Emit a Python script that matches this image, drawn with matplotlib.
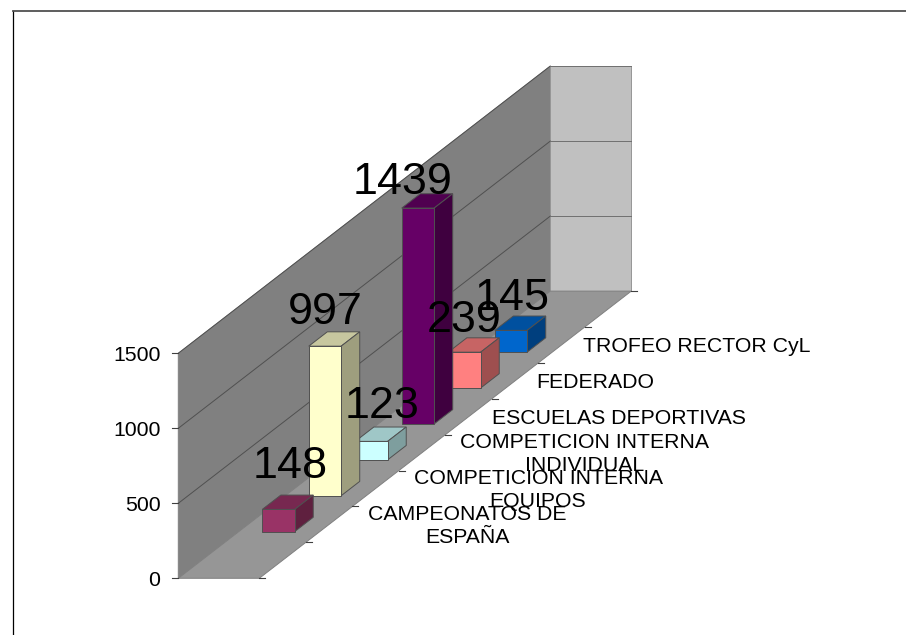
import matplotlib
matplotlib.use("Agg")
import matplotlib.pyplot as plt
from matplotlib.patches import Polygon

categorias = ["CAMPEONATOS DE\nESPAÑA", "COMPETICION INTERNA\nEQUIPOS", "COMPETICION INTERNA\nINDIVIDUAL",
              "ESCUELAS DEPORTIVAS", "FEDERADO", "TROFEO RECTOR CyL"]
valores = [148, 997, 123, 1439, 239, 145]
colores = ["#993366", "#FFFFCC", "#CCFFFF", "#660066", "#FF8080", "#0066CC"]
ticks_y = [0, 500, 1000, 1500]

# proyeccion oblicua, en pixeles de la imagen
X0, Y0 = 178.3, 578.3
ANCHO = 81.0
DX, DY = 46.5, 35.9
ESCALA = 0.15
N_FILAS = 8


def proy(u, v, z=0):
    return (X0 + ANCHO * u + DX * v, Y0 - DY * v - ESCALA * z)


def oscurecer(color, f):
    r, g, b = matplotlib.colors.to_rgb(color)
    return (r * f, g * f, b * f)


def cara(ax, puntos, color, borde="#505050", lw=0.7, z=2):
    ax.add_patch(Polygon(puntos, closed=True, facecolor=color, edgecolor=borde, linewidth=lw, zorder=z))


plt.rcParams["font.family"] = ["Liberation Sans", "DejaVu Sans"]
fig = plt.figure(figsize=(9.06, 6.35), dpi=100)
ax = fig.add_axes([0, 0, 1, 1])
ax.set_xlim(0, 906)
ax.set_ylim(635, 0)
ax.axis("off")

# marco
ax.plot([12.7, 12.7], [11, 635], color="black", lw=0.9, zorder=1)
ax.plot([12.7, 906], [11, 11], color="#505050", lw=1.3, zorder=1)

# paredes y suelo
top = ticks_y[-1]
cara(ax, [proy(0, 0), proy(0, 0, top), proy(0, N_FILAS, top), proy(0, N_FILAS)], "#808080", "#808080")
cara(ax, [proy(0, N_FILAS), proy(0, N_FILAS, top), proy(1, N_FILAS, top), proy(1, N_FILAS)], "#C0C0C0", "#969696")
cara(ax, [proy(0, 0), proy(1, 0), proy(1, N_FILAS), proy(0, N_FILAS)], "#969696", "#808080")

# lineas de division
for t in ticks_y[1:]:
    a, b, c = proy(0, 0, t), proy(0, N_FILAS, t), proy(1, N_FILAS, t)
    ax.plot([a[0], b[0]], [a[1], b[1]], color="#505050", lw=0.7, zorder=2.5)
    ax.plot([b[0], c[0]], [b[1], c[1]], color="#707070", lw=0.7, zorder=2.5)

# eje de valores
for t in ticks_y:
    x, y = proy(0, 0, t)
    ax.plot([x - 6, x], [y, y], color="#404040", lw=0.8, zorder=3)
    ax.text(x - 18, y + 2, str(t), ha="right", va="center", fontsize=15.3)

# marcas del eje de categorias
for k in range(N_FILAS + 1):
    x, y = proy(1, k)
    ax.plot([x, x + 6], [y, y], color="#404040", lw=0.8, zorder=3)

# barras, las de delante tapan a las de detras
pos_etiquetas = [(290, 466), (325, 313), (382, 406), (403, 183), (464, 320), (512, 298)]
pos_categorias = [(467.5, 526), (538, 490), (584.5, 454), (618.5, 418), (595.5, 383), (697, 347)]
for i in range(len(valores)):
    v0 = 1.3 + i
    v1 = v0 + 0.4
    u0, u1 = 0.29, 0.69
    h = valores[i]
    col = colores[i]
    z = 10 - i
    cara(ax, [proy(u0, v0, h), proy(u1, v0, h), proy(u1, v1, h), proy(u0, v1, h)], oscurecer(col, 0.78), z=z)
    cara(ax, [proy(u1, v0), proy(u1, v0, h), proy(u1, v1, h), proy(u1, v1)], oscurecer(col, 0.62), z=z)
    cara(ax, [proy(u0, v0), proy(u1, v0), proy(u1, v0, h), proy(u0, v0, h)], col, z=z)
    ax.text(pos_etiquetas[i][0], pos_etiquetas[i][1], str(h), ha="center", va="center", fontsize=32.3, zorder=20)
    ax.text(pos_categorias[i][0], pos_categorias[i][1], categorias[i], ha="center", va="center",
            fontsize=15.3, linespacing=1.32, zorder=20)

fig.savefig("out.png", dpi=100)
